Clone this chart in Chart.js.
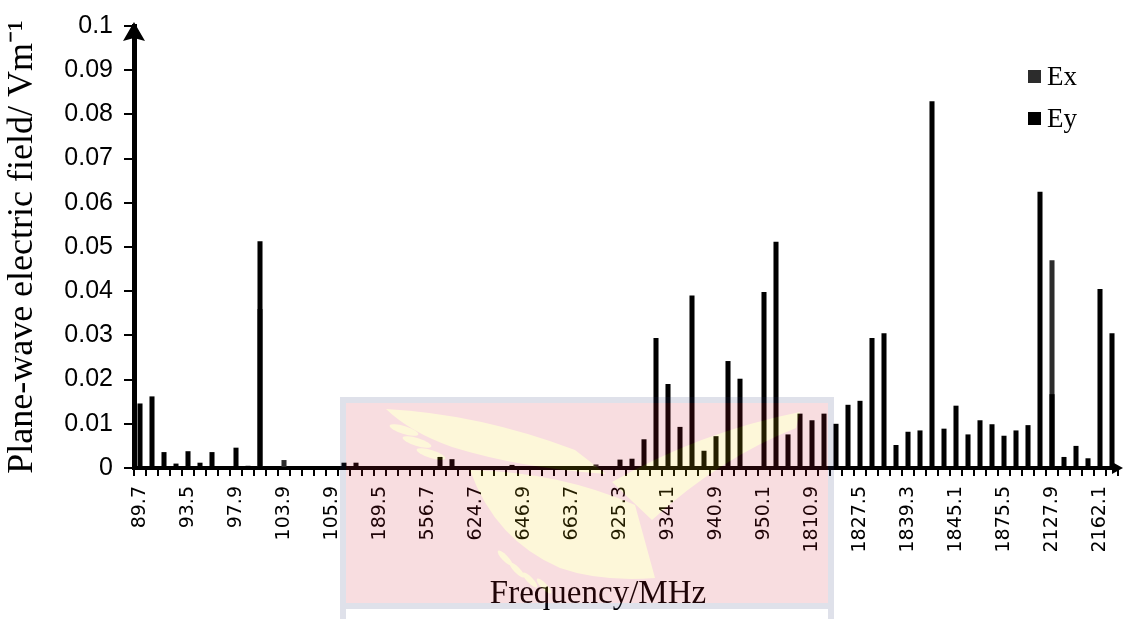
<!DOCTYPE html>
<html>
<head>
<meta charset="utf-8">
<script src="https://cdn.jsdelivr.net/npm/chart.js@4.4.1/dist/chart.umd.min.js"></script>
<style>
  html, body { margin: 0; padding: 0; background: #fff; }
  #wrap { width: 1128px; height: 619px; position: relative; }
</style>
</head>
<body>
<div id="wrap"><canvas id="chart" width="1128" height="619"></canvas></div>
<script>
// Frequencies printed under every fourth bar slot
const tickLabels = ['89.7', '93.5', '97.9', '103.9', '105.9', '189.5', '556.7', '624.7', '646.9', '663.7',
  '925.3', '934.1', '940.9', '950.1', '1810.9', '1827.5', '1839.3', '1845.1', '1875.5', '2127.9', '2162.1'];

// Ey field strength per measured frequency (V/m)
const eyValues = [
  0.0146, 0.0162, 0.0036, 0.0010, 0.0038, 0.0012, 0.0036, 0.0003, 0.0046, 0.0005,
  0.0513, 0.0000, 0.0000, 0.0000, 0.0000, 0.0000, 0.0000, 0.0012, 0.0012, 0.0003,
  0.0003, 0.0003, 0.0003, 0.0003, 0.0003, 0.0025, 0.0020, 0.0003, 0.0003, 0.0003,
  0.0003, 0.0007, 0.0003, 0.0003, 0.0003, 0.0003, 0.0003, 0.0003, 0.0003, 0.0003,
  0.0019, 0.0021, 0.0065, 0.0294, 0.0190, 0.0093, 0.0390, 0.0039, 0.0072, 0.0242,
  0.0202, 0.0004, 0.0398, 0.0512, 0.0076, 0.0123, 0.0108, 0.0123, 0.0100, 0.0143,
  0.0152, 0.0294, 0.0305, 0.0052, 0.0082, 0.0085, 0.0830, 0.0089, 0.0141, 0.0076,
  0.0108, 0.0099, 0.0073, 0.0085, 0.0097, 0.0625, 0.0167, 0.0025, 0.0050, 0.0022,
  0.0405, 0.0305
];

// Ex field strength per measured frequency (V/m)
const exValues = [
  0, 0, 0, 0, 0, 0, 0, 0, 0, 0,
  0.0360, 0, 0.0018, 0, 0, 0, 0, 0, 0, 0,
  0, 0, 0, 0, 0, 0, 0, 0, 0, 0,
  0, 0, 0, 0, 0, 0, 0, 0, 0.0008, 0,
  0, 0, 0, 0, 0, 0, 0, 0, 0, 0,
  0, 0, 0, 0, 0, 0, 0, 0, 0, 0,
  0, 0, 0, 0, 0, 0, 0, 0, 0, 0,
  0, 0, 0, 0, 0, 0, 0.0470, 0, 0, 0,
  0, 0
];

// Value axis ticks
const yTickValues = [0, 0.01, 0.02, 0.03, 0.04, 0.05, 0.06, 0.07, 0.08, 0.09, 0.1];

// One slot per measurement; only every fourth slot carries a printed frequency
const categories = eyValues.map((_, i) => (i % 4 === 0 && tickLabels[i / 4]) ? tickLabels[i / 4] : '');

const EX_COLOR = '#2c2c2c';
const EY_COLOR = '#000000';

// Arrow heads, legend, horizontal axis title and the tinted backdrop panel
const decorations = {
  id: 'decorations',
  afterDraw(chart) {
    const ctx = chart.ctx;
    const area = chart.chartArea;
    const yAxisX = area.left;
    const xAxisY = area.bottom;

    ctx.save();
    ctx.fillStyle = '#000';
    ctx.strokeStyle = '#000';

    // vertical axis arrow
    ctx.beginPath();
    ctx.moveTo(yAxisX, area.top - 4);
    ctx.lineTo(yAxisX + 11, area.top + 15);
    ctx.lineTo(yAxisX, area.top + 12);
    ctx.lineTo(yAxisX - 11, area.top + 15);
    ctx.closePath();
    ctx.fill();

    // horizontal axis arrow
    ctx.beginPath();
    ctx.moveTo(area.right + 5, xAxisY);
    ctx.lineTo(area.right - 6, xAxisY - 6);
    ctx.lineTo(area.right - 6, xAxisY + 6);
    ctx.closePath();
    ctx.fill();

    // legend
    ctx.font = '27px "Liberation Serif"';
    ctx.textBaseline = 'middle';
    ctx.textAlign = 'left';
    const rows = [77, 119];
    chart.data.datasets.forEach((ds, i) => {
      const cy = rows[i];
      ctx.fillStyle = ds.backgroundColor;
      ctx.fillRect(1028, cy - 7, 13, 13);
      ctx.fillStyle = '#000';
      ctx.fillText(ds.label, 1047, cy + 1);
    });

    // horizontal axis title
    ctx.font = '33px "Liberation Serif"';
    ctx.textAlign = 'center';
    ctx.fillText('Frequency/MHz', 598, 594);
    ctx.restore();

    // translucent crest panel laid over the lower middle of the chart
    const off = document.createElement('canvas');
    off.width = chart.width;
    off.height = chart.height;
    const o = off.getContext('2d');
    o.fillStyle = 'rgb(42,55,115)';
    o.fillRect(340, 397, 494, 6);
    o.fillRect(340, 397, 6, 222);
    o.fillRect(828, 397, 6, 222);
    o.fillRect(346, 603, 482, 6);
    o.fillStyle = 'rgb(208,28,48)';
    o.fillRect(346, 403, 482, 200);

    o.fillStyle = 'rgb(242,202,0)';
    // left wing
    o.beginPath();
    o.moveTo(386, 409);
    o.quadraticCurveTo(480, 414, 575, 450);
    o.lineTo(606, 474);
    o.quadraticCurveTo(520, 468, 452, 447);
    o.quadraticCurveTo(410, 432, 386, 409);
    o.fill();
    [[404, 430], [417, 442], [431, 454]].forEach(([cx, cy]) => {
      o.beginPath();
      o.ellipse(cx, cy, 15, 4, 0.3, 0, Math.PI * 2);
      o.fill();
    });
    // body
    o.beginPath();
    o.moveTo(470, 470);
    o.quadraticCurveTo(560, 472, 635, 505);
    o.lineTo(655, 578);
    o.quadraticCurveTo(600, 582, 560, 568);
    o.quadraticCurveTo(495, 540, 470, 470);
    o.fill();
    // talons
    [[505, 558], [517, 570], [530, 580], [544, 586]].forEach(([cx, cy]) => {
      o.beginPath();
      o.ellipse(cx, cy, 10, 3, 0.8, 0, Math.PI * 2);
      o.fill();
    });
    // right wing
    o.beginPath();
    o.moveTo(612, 482);
    o.quadraticCurveTo(700, 432, 800, 412);
    o.lineTo(796, 428);
    o.quadraticCurveTo(720, 458, 652, 520);
    o.closePath();
    o.fill();

    ctx.save();
    ctx.globalAlpha = 0.15;
    ctx.drawImage(off, 0, 0);
    ctx.restore();
  }
};

new Chart(document.getElementById('chart'), {
  type: 'bar',
  data: {
    labels: categories,
    datasets: [
      { label: 'Ex', data: exValues, backgroundColor: EX_COLOR, order: 1,
        grouped: false, categoryPercentage: 1, barPercentage: 0.42, borderWidth: 0 },
      { label: 'Ey', data: eyValues, backgroundColor: EY_COLOR, order: 0,
        grouped: false, categoryPercentage: 1, barPercentage: 0.42, borderWidth: 0 }
    ]
  },
  options: {
    responsive: false,
    animation: false,
    devicePixelRatio: 1,
    layout: { padding: { top: 20, right: 10, left: 0, bottom: 0 } },
    plugins: {
      legend: { display: false },
      tooltip: { enabled: false }
    },
    scales: {
      x: {
        afterFit: (s) => { s.height = 151; s.paddingLeft = 0; s.paddingRight = 0; },
        ticks: {
          autoSkip: false, maxRotation: 90, minRotation: 90, padding: 10,
          color: '#000', font: { family: 'DejaVu Sans', size: 19 }
        },
        grid: { offset: true, drawOnChartArea: false, drawTicks: true, tickLength: 8, color: '#000', lineWidth: 2 },
        border: { display: true, color: '#000', width: 4 }
      },
      y: {
        min: 0,
        max: 0.1,
        afterFit: (s) => { s.width = 134; },
        afterBuildTicks: (s) => { s.ticks = yTickValues.map((v) => ({ value: v })); },
        ticks: {
          padding: 11, color: '#000',
          font: { family: 'Liberation Sans', size: 25 },
          callback: (v) => String(+Number(v).toFixed(2))
        },
        grid: { drawOnChartArea: false, drawTicks: true, tickLength: 10, color: '#000', lineWidth: 2 },
        border: { display: true, color: '#000', width: 5 },
        title: {
          display: true,
          text: 'Plane-wave electric field/ Vm⁻¹',
          color: '#000',
          font: { family: 'Liberation Serif', size: 36 },
          padding: { top: 1, bottom: 0 }
        }
      }
    }
  },
  plugins: [decorations]
});
</script>
</body>
</html>
